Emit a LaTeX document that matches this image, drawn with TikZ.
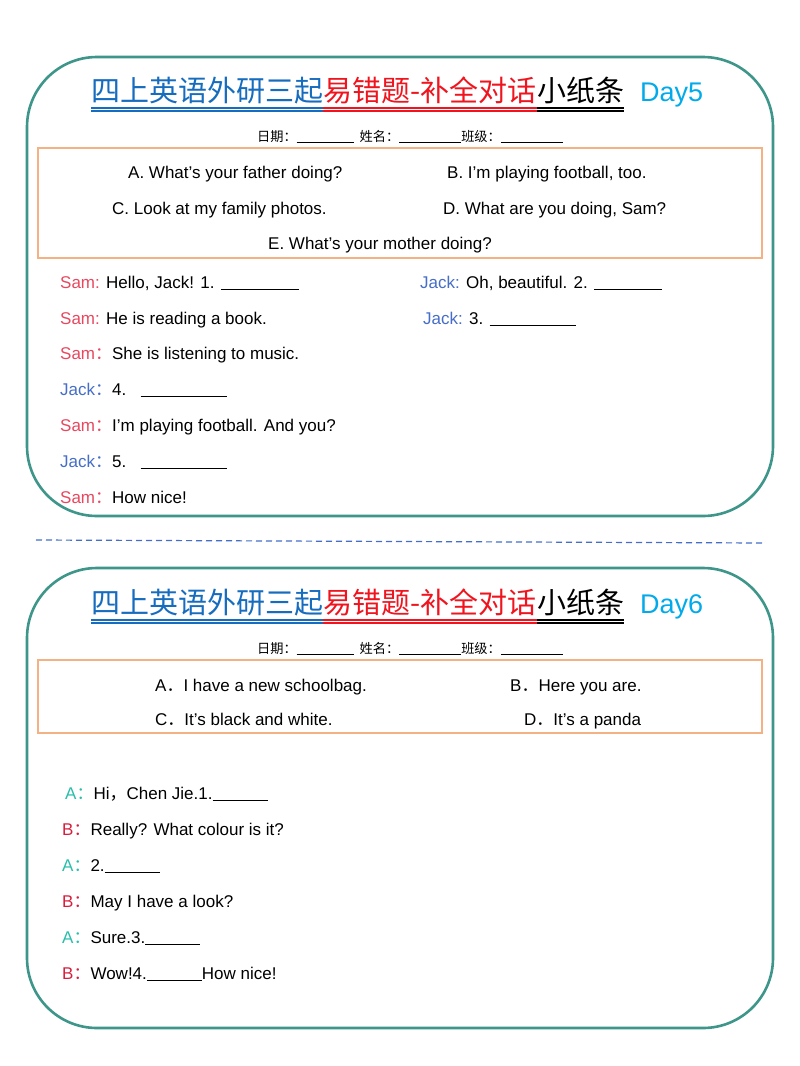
\documentclass[tikz,border=0pt]{standalone}
\usepackage{fontspec}
\setmainfont{Liberation Sans}
\newfontfamily\cjk{Noto Sans CJK SC}
\definecolor{frame}{RGB}{62,150,138}
\definecolor{orng}{RGB}{244,177,131}
\definecolor{tblue}{RGB}{22,108,190}
\definecolor{tred}{RGB}{240,20,30}
\definecolor{dcyan}{RGB}{0,170,235}
\definecolor{sam}{RGB}{232,72,95}
\definecolor{jack}{RGB}{70,110,200}
\definecolor{ateal}{RGB}{40,190,170}
\definecolor{bred}{RGB}{215,30,60}
\begin{document}
\begin{tikzpicture}[x=1pt,y=-1pt,
  t/.style={anchor=base west,inner sep=0pt,font=\fontsize{17}{20}\selectfont},
  hd/.style={anchor=base,inner sep=0pt,font=\cjk\fontsize{13.2}{15}\selectfont},
  card/.style={draw=frame,line width=2.6pt,rounded corners=70pt},
  obox/.style={draw=orng,line width=2pt}]
\useasboundingbox (0,0) rectangle (800,1066);
\fill[white] (0,0) rectangle (800,1066);
\newcommand\ttl[3]{%
  \node[anchor=base west,inner sep=0pt,font=\cjk\fontsize{29}{32}\selectfont] (#1a) at (91,#2) {\textcolor{tblue}{四上英语外研三起}};
  \node[anchor=base west,inner sep=0pt,font=\cjk\fontsize{29}{32}\selectfont] (#1b) at (#1a.base east) {\textcolor{tred}{易错题-补全对话}};
  \node[anchor=base west,inner sep=0pt,font=\cjk\fontsize{29}{32}\selectfont] (#1c) at (#1b.base east) {小纸条};
  \node[anchor=base west,inner sep=0pt,font=\fontsize{27}{30}\selectfont,text=dcyan] (#1d) at (640,#2) {#3};
  \foreach \o in {7,10}{
    \draw[tblue,line width=1.2pt] ([yshift=-\o pt]#1a.base west) -- ([yshift=-\o pt]#1a.base east);
    \draw[tred,line width=1.2pt] ([yshift=-\o pt]#1b.base west) -- ([yshift=-\o pt]#1b.base east);
    \draw[black,line width=1.2pt] ([yshift=-\o pt]#1c.base west) -- ([yshift=-\o pt]#1c.base east);}
}
% card 1
\draw[card] (27,57) rectangle (773,516);
\ttl{t1}{101}{Day5}
\node[hd] (h1) at (410,141) {日期：\underline{\hspace{57pt}}\ \ 姓名：\underline{\hspace{62pt}}班级：\underline{\hspace{62pt}}};
\draw[obox] (38,148) rectangle (762,258);
\node[t] (o1) at (128,178) {A. What’s your father doing?};
\node[t] (o2) at (447,178) {B. I’m playing football, too.};
\node[t] (o3) at (112,214) {C. Look at my family photos.};
\node[t] (o4) at (443,214) {D. What are you doing, Sam?};
\node[t] (o5) at (268,249) {E. What’s your mother doing?};
\node[t] (d1) at (60,288) {\textcolor{sam}{Sam:} Hello, Jack! 1. \underline{\hspace{78pt}}};
\node[t] (d2) at (420,288) {\textcolor{jack}{Jack:} Oh, beautiful. 2. \underline{\hspace{68pt}}};
\node[t] (d3) at (60,324) {\textcolor{sam}{Sam:} He is reading a book.};
\node[t] (d4) at (423,324) {\textcolor{jack}{Jack:} 3. \underline{\hspace{86pt}}};
\node[t] (d5) at (60,359) {\textcolor{sam}{Sam{\cjk ：}}She is listening to music.};
\node[t] (d6) at (60,395) {\textcolor{jack}{Jack{\cjk ：}}4.\ \ \ \underline{\hspace{86pt}}};
\node[t] (d7) at (60,431) {\textcolor{sam}{Sam{\cjk ：}}I’m playing football. And you?};
\node[t] (d8) at (60,467) {\textcolor{jack}{Jack{\cjk ：}}5.\ \ \ \underline{\hspace{86pt}}};
\node[t] (d9) at (60,503) {\textcolor{sam}{Sam{\cjk ：}}How nice!};
% separator
\coordinate (s1) at (36,540); \coordinate (s2) at (765,543);
\draw[jack,line width=1.2pt,dash pattern=on 6pt off 4pt] (s1) -- (s2);
% card 2
\draw[card] (27,568) rectangle (773,1028);
\ttl{t2}{613}{Day6}
\node[hd] (h2) at (410,653) {日期：\underline{\hspace{57pt}}\ \ 姓名：\underline{\hspace{62pt}}班级：\underline{\hspace{62pt}}};
\draw[obox] (38,660) rectangle (762,733);
\node[t] (p1) at (155,691) {A{\cjk ．}I have a new schoolbag.};
\node[t] (p2) at (510,691) {B{\cjk ．}Here you are.};
\node[t] (p3) at (155,725) {C{\cjk ．}It’s black and white.};
\node[t] (p4) at (524,725) {D{\cjk ．}It’s a panda};
\node[t] (e1) at (65,799) {\textcolor{ateal}{A{\cjk ：}}Hi{\cjk ，}Chen Jie.1.\underline{\hspace{55pt}}};
\node[t] (e2) at (62,835) {\textcolor{bred}{B{\cjk ：}}Really? What colour is it?};
\node[t] (e3) at (62,871) {\textcolor{ateal}{A{\cjk ：}}2.\underline{\hspace{55pt}}};
\node[t] (e4) at (62,907) {\textcolor{bred}{B{\cjk ：}}May I have a look?};
\node[t] (e5) at (62,943) {\textcolor{ateal}{A{\cjk ：}}Sure.3.\underline{\hspace{55pt}}};
\node[t] (e6) at (62,979) {\textcolor{bred}{B{\cjk ：}}Wow!4.\underline{\hspace{55pt}}How nice!};
\end{tikzpicture}
\end{document}
